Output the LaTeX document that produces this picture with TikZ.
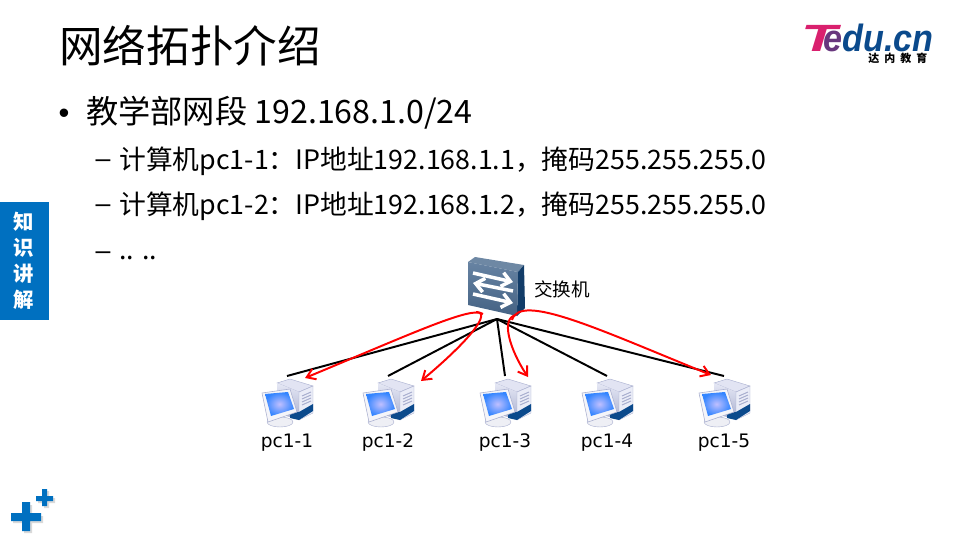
\documentclass[tikz,border=0pt]{standalone}
\usepackage{fontspec}
\usepackage{xcolor}
\setmainfont{Noto Sans CJK SC}
\newfontfamily\labelfont{DejaVu Sans}
\newfontfamily\logofont{Liberation Sans}
\usetikzlibrary{arrows.meta}
\definecolor{edublue}{HTML}{0070C0}
\definecolor{logoblue}{HTML}{0B4A8C}
\definecolor{logopink}{HTML}{D9206E}
\definecolor{swfront}{HTML}{4C6D92}
\definecolor{swtop}{HTML}{6E88A4}
\definecolor{swside}{HTML}{123C68}
\definecolor{pcbody}{HTML}{D5D9EE}
\definecolor{pcshade}{HTML}{A9AFCF}
\tikzset{
  bigtext/.style={anchor=west,inner sep=0,font=\fontsize{22.9pt}{26pt}\selectfont},
  subtext/.style={anchor=west,inner sep=0,font=\fontsize{19.04pt}{22pt}\selectfont},
  dashmark/.style={inner sep=0,font=\logofont\fontsize{19pt}{22pt}\selectfont},
  sidetext/.style={text=white,inner sep=0,font=\fontsize{14.5pt}{16pt}\bfseries\selectfont},
  pcbox/.style={minimum width=1.35cm,minimum height=1.35cm,inner sep=0,outer sep=0},
  swbox/.style={minimum width=1.4cm,minimum height=1.55cm,inner sep=0,outer sep=0},
  pclabel/.style={inner sep=0,font=\labelfont\fontsize{13.2pt}{15pt}\selectfont},
  logostyle/.style={anchor=base west,inner sep=0,font=\logofont\fontsize{27pt}{30pt}\bfseries\itshape\selectfont},
  link/.style={line width=1.4pt,black},
  flow/.style={line width=1.4pt,red,-{Straight Barb[length=6pt,width=8pt]}},
  whitearrow/.style={line width=2.5pt,white,-{Straight Barb[length=6pt,width=10pt]}},
  pccomp/.pic={
    % tower
    \fill[pcbody!70!white,draw=pcshade,line width=0.3pt] (-10,-20) -- (3,-24) -- (26,-17) -- (12,-11) -- cycle;
    \shade[top color=pcbody!60!white,bottom color=pcshade] (-10,-20) -- (12,-11) -- (12,17) -- (-10,10) -- cycle;
    \fill[pcbody!50!white,draw=pcshade,line width=0.3pt] (12,-11) -- (26,-17) -- (26,10) -- (12,17) -- cycle;
    \fill[logoblue] (3,10) -- (12,9) -- (26,1) -- (26,8) -- (12,17) -- (3,15) -- cycle;
    \foreach \yy in {-7,-4,-1,2}
      \draw[pcshade,line width=0.7pt] (15,\yy) -- (24,\yy-4);
    % base and monitor
    \fill[white!80!pcshade,draw=pcshade,line width=0.3pt] (-7,19) ellipse (13 and 5);
    \fill[white!88!pcshade,draw=pcshade,line width=0.4pt] (-25,-10) -- (3,-14) -- (10,9) -- (-19,19) -- cycle;
    \shade[inner color=white!75!blue,outer color=blue!60!cyan!80!white]
      (-22,-9) -- (1,-11) -- (7,6) -- (-16,13) -- cycle;
  },
  swcomp/.pic={
    \fill[swtop] (-29,-26) -- (-22,-31) -- (27,-23) -- (21,-16) -- cycle;
    \fill[swside] (21,-16) -- (27,-23) -- (28,20) -- (20,28) -- cycle;
    \shade[top color=swfront!85!white,bottom color=swfront!90!black]
      (-29,-26) -- (21,-16) -- (20,28) -- (-29,17) -- cycle;
    \draw[whitearrow] (-24,-15) -- (16,-6);
    \draw[whitearrow] (16,3) -- (-24,-5);
    \draw[whitearrow] (-24,6) -- (16,15);
  }
}
\begin{document}
\begin{tikzpicture}[x=0.025cm,y=-0.025cm]
\useasboundingbox (0,0) rectangle (960,540);
% title and text
\node[anchor=west,inner sep=0,font=\fontsize{31pt}{34pt}\selectfont] (title) at (59,46) {网络拓扑介绍};
\node[inner sep=0,font=\logofont\fontsize{22pt}{26pt}\selectfont] (bullet) at (64,116) {•};
\node[bigtext] (net) at (86,113) {教学部网段 192.168.1.0/24};
\node[dashmark] (dash1) at (103,164) {–};
\node[subtext] (line1) at (119,161) {计算机pc1-1：IP地址192.168.1.1，掩码255.255.255.0};
\node[dashmark] (dash2) at (103,209) {–};
\node[subtext] (line2) at (119,206) {计算机pc1-2：IP地址192.168.1.2，掩码255.255.255.0};
\node[dashmark] (dash3) at (103,255.5) {–};
\node[subtext,anchor=base west] (line3) at (119,259) {.. ..};
% side tab
\fill[edublue] (0,202) rectangle (49,320);
\node[sidetext] (side1) at (24,222) {知};
\node[sidetext] (side2) at (24,248) {识};
\node[sidetext] (side3) at (24,274) {讲};
\node[sidetext] (side4) at (24,300) {解};
% logo
\node[logostyle,text=logopink] (logot) at (801,51) {\scalebox{1.55}[1]{T}};
\node[logostyle,text=logoblue] (logo) at (823,51)
  {\scalebox{0.9}[1]{\textcolor{logopink!45!logoblue}{e}du.cn}};
\node[anchor=base west,inner sep=0,font=\fontsize{7.8pt}{8pt}\bfseries\selectfont] (logotext) at (868,62.5)
  {达\hspace{3.6pt}内\hspace{3.6pt}教\hspace{3.6pt}育};
% plus signs
\fill[black!15] (24,505) rectangle (32,533) (13,516) rectangle (43,523);
\fill[black!15] (44,491) rectangle (49,508) (38,498) rectangle (55,503);
\fill[edublue] (22,502) rectangle (30,531) (11,513) rectangle (41,521);
\fill[edublue] (42,489) rectangle (47,506) (36,496) rectangle (53,501);
% switch
\node[swbox] (sw) at (497,288) {};
\pic at (sw.center) {swcomp};
\node[anchor=west,inner sep=0,font=\fontsize{13.2pt}{15pt}\selectfont] (swname) at (534,289) {交换机};
% computers
\foreach \x/\n in {287/1,388/2,505/3,607/4,724/5} {
  \node[pcbox] (pc\n) at (\x,403) {};
  \pic at (pc\n.center) {pccomp};
  \node[pclabel] (name\n) at (\x,443) {pc1-\n};
  \draw[link] (sw.south) -- (pc\n.north);
}
% red paths
\coordinate (a1) at (483,314);
\coordinate (a2) at (305,378);
\coordinate (b1) at (476,312);
\coordinate (b2) at (421,381);
\coordinate (c1) at (516,315);
\coordinate (c2) at (528,377);
\coordinate (d1) at (512,320);
\coordinate (d2) at (711,375);
\draw[flow] (a1) .. controls (472,306) and (420,330) .. (a2);
\draw[flow] (b1) .. controls (492,312) and (470,340) .. (b2);
\draw[flow] (c1) .. controls (500,318) and (510,350) .. (c2);
\draw[flow] (d1) .. controls (520,292) and (600,330) .. (d2);
\end{tikzpicture}
\end{document}
